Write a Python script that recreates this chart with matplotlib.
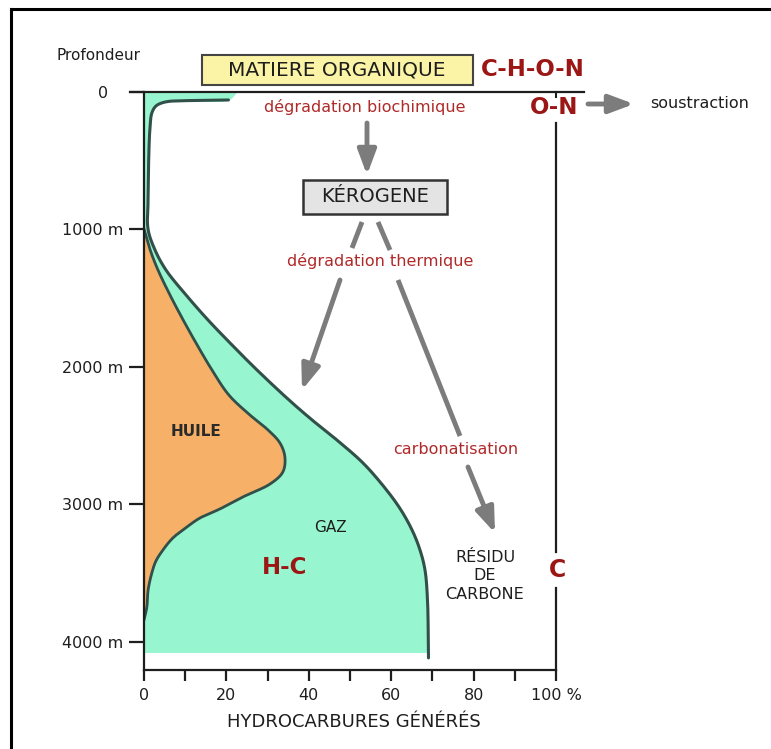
import numpy as np
import matplotlib
matplotlib.use("Agg")
import matplotlib.pyplot as plt
from matplotlib.patches import Rectangle
from matplotlib.lines import Line2D

# outer curve (total hydrocarbons = gas + oil), % vs depth in m
gas_pct = [22.5, 20.5, 11.2, 5.1, 2.9, 1.9, 1.5, 1.2, 1.0, 0.97, 2.67, 5.34, 10.19,
           15.53, 21.36, 27.43, 35.19, 40.78, 47.09, 52.91, 57.28, 61.89, 65.05,
           66.99, 68.2, 68.81, 69.05]
gas_depth = [0, 58, 62, 73, 102, 153, 240, 422, 785, 996, 1149, 1295, 1476,
             1658, 1840, 2022, 2240, 2385, 2538, 2691, 2836, 3018, 3185,
             3331, 3476, 3695, 4116]

# inner curve (oil window)
oil_pct = [0.0, 1.5, 3.4, 6.3, 9.5, 12.9, 16.5, 20.6, 25.7, 30.1, 33.0, 34.2, 33.7,
           30.6, 24.5, 18.4, 13.6, 10.4, 7.0, 4.6, 2.9, 1.9, 1.0, 0.7, 0.0]
oil_depth = [996, 1149, 1295, 1476, 1658, 1840, 2022, 2204, 2349, 2458, 2553, 2655,
             2764, 2851, 2938, 3033, 3098, 3164, 3244, 3331, 3411, 3498, 3622, 3745, 3840]

gas_fill_bottom = 4073

depth_ticks = [0, 1000, 2000, 3000, 4000]
depth_labels = ["0   ", "1000 m", "2000 m", "3000 m", "4000 m"]
pct_ticks = [0, 20, 40, 60, 80, 100]
pct_labels = ["0", "20", "40", "60", "80", "100 %"]
pct_minor = [10, 30, 50, 70, 90]

GREEN = "#97f6d0"
ORANGE = "#f6b068"
OUTLINE = "#32504a"
DARKRED = "#9c1616"
RED = "#b02a2a"
GREY = "#7c7c7c"
INK = "#1e1e1e"

W, H = 771, 749
fig = plt.figure(figsize=(W / 100, H / 100), dpi=100)


def fp(px, py):
    # pixel position -> figure fraction
    return (px / W, 1 - py / H)


def smooth(xs, ys, n=12):
    # centripetal Catmull-Rom through the read points, only for drawing
    sx, sy = 4.12, 0.1375
    P = np.column_stack([np.asarray(xs, float) * sx, np.asarray(ys, float) * sy])
    P = np.vstack([2 * P[0] - P[1], P, 2 * P[-1] - P[-2]])
    out = []
    for i in range(1, len(P) - 2):
        p0, p1, p2, p3 = P[i - 1], P[i], P[i + 1], P[i + 2]
        t0 = 0.0
        t1 = t0 + np.linalg.norm(p1 - p0) ** 0.5
        t2 = t1 + np.linalg.norm(p2 - p1) ** 0.5
        t3 = t2 + np.linalg.norm(p3 - p2) ** 0.5
        t = np.linspace(t1, t2, n, endpoint=False)[:, None]
        a1 = (t1 - t) / (t1 - t0) * p0 + (t - t0) / (t1 - t0) * p1
        a2 = (t2 - t) / (t2 - t1) * p1 + (t - t1) / (t2 - t1) * p2
        a3 = (t3 - t) / (t3 - t2) * p2 + (t - t2) / (t3 - t2) * p3
        b1 = (t2 - t) / (t2 - t0) * a1 + (t - t0) / (t2 - t0) * a2
        b2 = (t3 - t) / (t3 - t1) * a2 + (t - t1) / (t3 - t1) * a3
        c = (t2 - t) / (t2 - t1) * b1 + (t - t1) / (t2 - t1) * b2
        out.append(c)
    out.append(P[-2][None, :])
    out = np.vstack(out)
    return out[:, 0] / sx, out[:, 1] / sy


ax = fig.add_axes([144 / W, 1 - 670 / H, (556 - 144) / W, (670 - 92) / H])
ax.set_xlim(0, 100)
ax.set_ylim(4204, 0)

gx, gy = smooth(gas_pct, gas_depth)
lx, ly = smooth(gas_pct[1:], gas_depth[1:])
ox, oy = smooth(oil_pct, oil_depth)
ox = np.clip(ox, 0, None)

# filled areas
green = ax.fill_betweenx(gy, 0, gx, color=GREEN, lw=0, zorder=1)
clip = Rectangle((-5, 0), 120, gas_fill_bottom, transform=ax.transData)
green.set_clip_path(clip)
ax.fill_betweenx(oy, 0, ox, color=ORANGE, lw=0, zorder=2)
ax.plot(lx, ly, color=OUTLINE, lw=2.2, zorder=3,
        solid_capstyle="round", solid_joinstyle="round")
ax.plot(ox, oy, color=OUTLINE, lw=2.0, zorder=3,
        solid_capstyle="round", solid_joinstyle="round")

# spines
for s in ["top", "right"]:
    ax.spines[s].set_visible(False)
for s in ["left", "bottom"]:
    ax.spines[s].set_color(INK)
    ax.spines[s].set_linewidth(1.6)
    ax.spines[s].set_zorder(5)
ax.plot([-3.4, 106.8], [0, 0], color=INK, lw=1.6, clip_on=False, zorder=5)
ax.plot([100, 100], [0, 40], color=INK, lw=1.5, clip_on=False)
ax.plot([100, 100], [225, 3345], color=INK, lw=1.6, clip_on=False)
ax.plot([100, 100], [3607, 4204], color=INK, lw=1.6, clip_on=False)

ax.set_yticks(depth_ticks)
ax.set_yticklabels(depth_labels)
ax.set_xticks(pct_ticks)
ax.set_xticklabels(pct_labels)
ax.set_xticks(pct_minor, minor=True)
ax.tick_params(axis="y", direction="out", length=11, width=1.6, pad=4,
               labelsize=11.5, colors=INK)
ax.tick_params(axis="x", which="both", direction="out", length=8, width=1.6,
               pad=5, labelsize=11.5, colors=INK)
ax.patch.set_alpha(0)

# frame of the picture
fig.add_artist(Line2D([11 / W, 1], [1 - 9 / H] * 2, color="black", lw=2.2))
fig.add_artist(Line2D([11 / W] * 2, [1 - 9 / H, 0], color="black", lw=2.2))


def box(x0, y0, x1, y1, fc, ec, lw):
    fig.add_artist(Rectangle(fp(x0, y1), (x1 - x0) / W, (y1 - y0) / H,
                             transform=fig.transFigure, fc=fc, ec=ec, lw=lw))


box(202, 55, 473, 85, "#fbf4a6", "#444444", 1.5)
box(303, 180, 447, 214, "#e4e4e4", "#333333", 1.8)

# labels
fig.text(*fp(98, 56), "Profondeur", ha="center", va="center", fontsize=11, color=INK)
fig.text(*fp(354, 722), "HYDROCARBURES GÉNÉRÉS", ha="center", va="center",
         fontsize=13, color=INK)

fig.text(*fp(337, 70), "MATIERE ORGANIQUE", ha="center", va="center", fontsize=14.5,
         color=INK)
fig.text(*fp(533, 70), "C-H-O-N", ha="center", va="center", fontsize=16.5,
         fontweight="bold", color=DARKRED)
fig.text(*fp(365, 107), "dégradation biochimique", ha="center", va="center",
         fontsize=11.5, color=RED)
fig.text(*fp(554, 107), "O-N", ha="center", va="center", fontsize=16.5,
         fontweight="bold", color=DARKRED)
fig.text(*fp(700, 104), "soustraction", ha="center", va="center", fontsize=11.5,
         color=INK)
fig.text(*fp(375, 197), "KÉROGENE", ha="center", va="center", fontsize=14,
         color=INK)
fig.text(*fp(380, 261), "dégradation thermique", ha="center", va="center",
         fontsize=11.5, color=RED)
fig.text(*fp(456, 450), "carbonatisation", ha="center", va="center",
         fontsize=11.5, color=RED)
fig.text(*fp(196, 432), "HUILE", ha="center", va="center", fontsize=11,
         fontweight="bold", color="#2a2a2a")
fig.text(*fp(330, 528), "GAZ", ha="center", va="center", fontsize=11, color=INK)
fig.text(*fp(285, 567), "H-C", ha="center", va="center", fontsize=16.5,
         fontweight="bold", color=DARKRED)
fig.text(*fp(485, 576), "RÉSIDU\nDE\nCARBONE", ha="center", va="center",
         fontsize=11.5, color=INK, linespacing=1.3)
fig.text(*fp(558, 570), "C", ha="center", va="center", fontsize=17,
         fontweight="bold", color=DARKRED)

# grey arrows and connector lines
head = dict(arrowstyle="-|>,head_length=0.75,head_width=0.28", color=GREY, lw=3.5,
            mutation_scale=20, shrinkA=0, shrinkB=0)


def arrow(p0, p1):
    ax.annotate("", xy=fp(*p1), xytext=fp(*p0), xycoords="figure fraction",
                textcoords="figure fraction", arrowprops=head,
                annotation_clip=False)


def seg(p0, p1):
    a, b = fp(*p0), fp(*p1)
    fig.add_artist(Line2D([a[0], b[0]], [a[1], b[1]], color=GREY, lw=3.5,
                          solid_capstyle="butt"))


arrow((588, 104), (634, 104))
arrow((367, 123), (367, 175))
seg((362, 222), (352, 248))
arrow((340, 280), (302, 390))
seg((378, 222), (390, 250))
seg((398, 280), (460, 436))
arrow((468, 467), (495, 533))

fig.savefig("out.png", dpi=100, facecolor="white")
